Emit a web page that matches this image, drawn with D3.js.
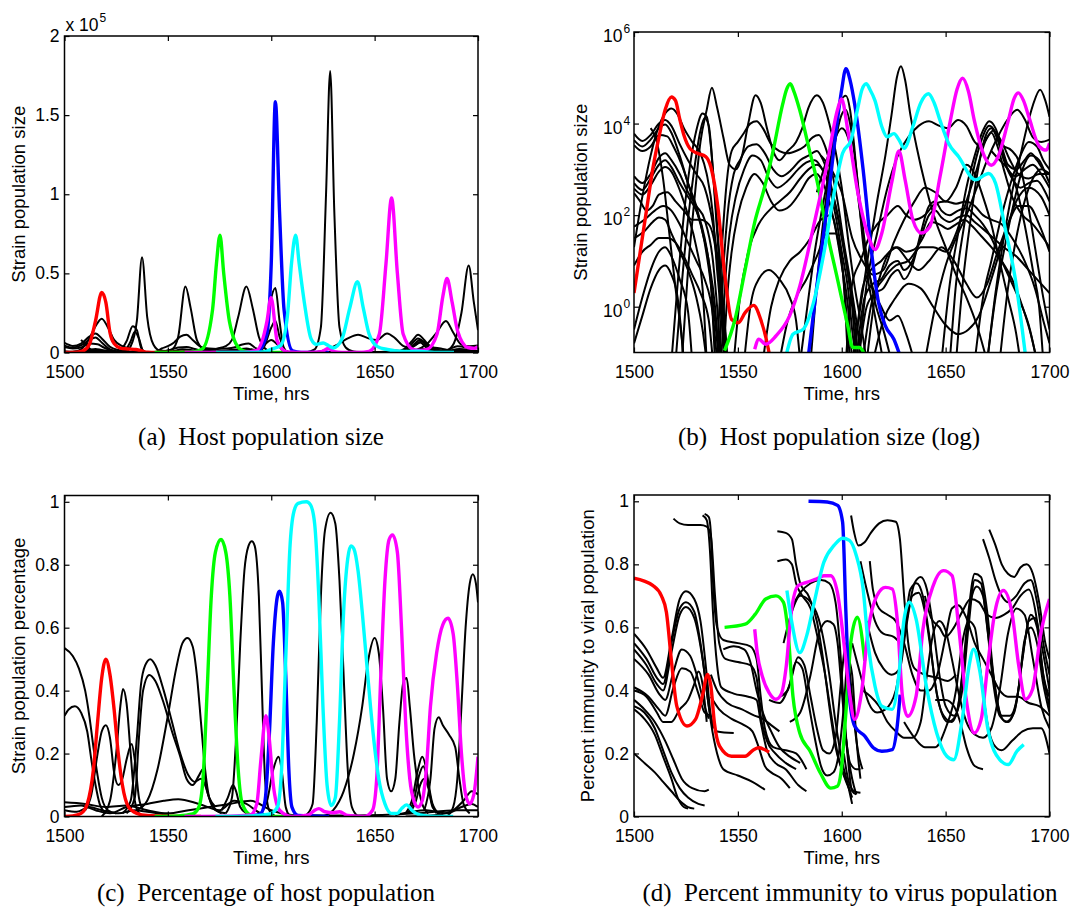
<!DOCTYPE html>
<html>
<head>
<meta charset="utf-8">
<script src="https://cdn.jsdelivr.net/npm/d3@7"></script>
<style>
body { margin: 0; background: #fff; }
svg text { font-family: "Liberation Sans", Arial, Helvetica, sans-serif; }
svg text.cap { font-family: "Liberation Serif", "Times New Roman", serif; }
</style>
</head>
<body>
<script>
// ------------------------------------------------------------------ //
// DATA
// ------------------------------------------------------------------ //

var timeTicks = [1500, 1550, 1600, 1650, 1700]
var sizeTicks = [0, 50000, 100000, 150000, 200000]
var logTicks = [1, 100, 10000, 1000000]
var logExps = ["0", "2", "4", "6"]
var fracTicks = [0, 0.2, 0.4, 0.6, 0.8, 1]

var captions = ["(a)\u2002Host population size", "(b)\u2002Host population size (log)",
    "(c)\u2002Percentage of host population", "(d)\u2002Percent immunity to virus population"]

// host population, log10(strain size) vs time (hrs) -- panels (a) and (b)
var hostRed = [[1500, 0.3], [1503, 1.2], [1506, 2.1], [1509, 3.0], [1512, 3.7], [1515, 4.3], [1518, 4.58], [1520, 4.5], [1522, 4.1], [1524, 3.75], [1527, 3.45], [1530.5, 3.35], [1534.5, 3.28], [1537, 3.05], [1540.3, 2.2], [1543.6, 0.74], [1547, -0.28], [1550.2, -0.35], [1553.5, -0.13], [1557.6, 0.03], [1561, -0.28], [1565, -1.0], [1566, -1.3]]
var hostGreen = [[1543.6, -0.96], [1548.6, -0.28], [1553.5, 0.81], [1558.4, 1.9], [1562.5, 2.55], [1566.7, 3.35], [1571.6, 4.43], [1573.5, 4.75], [1575.2, 4.87], [1577, 4.7], [1579.8, 4.29], [1584.8, 3.35], [1588, 2.77], [1593, 1.61], [1598, 0.59], [1602.9, -0.42], [1605.3, -0.89], [1608.6, -0.89], [1611, -1.05]]
var hostBlue = [[1584, -1.05], [1588, 0.45], [1593, 2.19], [1597.9, 4.07], [1600, 4.75], [1602, 5.2], [1604, 4.95], [1606.2, 4.43], [1610.3, 2.99], [1614.4, 1.17], [1617.7, 0.09], [1621, -0.42], [1625.1, -0.71], [1627.9, -1.05]]
var hostMagenta = [[1558.1, -0.93], [1560.1, -0.71], [1563.4, -0.82], [1568.3, -0.64], [1574.9, -0.2], [1579.8, 0.45], [1586.4, 1.75], [1593, 3.13], [1597.9, 4.29], [1599.9, 4.54], [1602.9, 3.86], [1607.8, 2.48], [1612.8, 1.54], [1616, 1.25], [1619.3, 1.61], [1624.3, 2.77], [1627.5, 3.4], [1630.5, 2.77], [1634.2, 1.9], [1638.3, 1.61], [1642.4, 1.75], [1647.3, 2.84], [1652.3, 4.07], [1655.5, 4.75], [1658.2, 4.99], [1661, 4.7], [1663.8, 4.07], [1668.7, 3.28], [1672, 3.09], [1675.3, 3.28], [1680.2, 4.07], [1683, 4.55], [1685, 4.67], [1687.5, 4.5], [1690.1, 4.14], [1695.1, 3.5], [1698.4, 3.42], [1700, 3.57]]
var hostCyan = [[1573.3, -1.05], [1576.5, -0.6], [1581.5, -0.49], [1586.4, 0.09], [1591.4, 1.17], [1596.3, 2.48], [1600.4, 3.35], [1604.5, 3.64], [1607.8, 4.36], [1609.8, 4.75], [1611.8, 4.87], [1613.5, 4.75], [1616, 4.5], [1619.3, 3.93], [1621.8, 3.71], [1625.1, 3.78], [1627.6, 3.64], [1630, 3.46], [1634.2, 3.93], [1638, 4.45], [1641.7, 4.65], [1644.5, 4.45], [1647.3, 4.07], [1651.4, 3.57], [1656.2, 3.28], [1664.3, 2.77], [1670.7, 2.91], [1674, 2.7], [1678.8, 1.68], [1683.6, 0.59], [1688.4, -1.05]]
var hostBlack = [
    [[1500, 1.3], [1504, 2.4], [1508, 3.3], [1512, 3.95], [1515, 4.22], [1518, 4.33], [1521, 4.2], [1524, 3.9], [1528, 3.6], [1532, 3.35], [1535, 2.9], [1538, 2.0], [1540, 0.8], [1542, -0.2], [1544, -1.2]],
    [[1500, 3.78], [1504, 3.62], [1508, 3.75], [1512, 4.0], [1515, 4.08], [1518, 3.95], [1522, 3.55], [1526, 3.2], [1530, 2.9], [1534, 2.6], [1538, 1.8], [1541, 0.8], [1543, 0], [1545, -1.2]],
    [[1500, 3.64], [1504, 3.5], [1508, 3.65], [1512, 3.9], [1515, 3.98], [1518, 3.8], [1522, 3.3], [1526, 2.7], [1530, 2.2], [1534, 1.4], [1537, 0.5], [1539, -0.3], [1541, -1.2]],
    [[1500, 3.53], [1504, 3.4], [1508, 3.5], [1512, 3.75], [1516, 3.72], [1519, 3.5], [1523, 3.1], [1528, 2.4], [1532, 1.8], [1536, 1.0], [1539, 0], [1541, -1.2]],
    [[1500, 2.85], [1504, 2.7], [1508, 2.9], [1512, 3.25], [1515, 3.35], [1518, 3.2], [1522, 2.9], [1526, 2.5], [1530, 2.2], [1534, 1.9], [1538, 1.0], [1540, 0], [1542, -1.2]],
    [[1500, 2.7], [1504, 2.55], [1508, 2.8], [1512, 3.1], [1515, 3.2], [1518, 3.05], [1522, 2.7], [1526, 2.4], [1530, 2.1], [1534, 1.5], [1537, 0.5], [1539, -1.2]],
    [[1500, 2.58], [1504, 2.45], [1508, 2.65], [1512, 2.95], [1515, 3.05], [1518, 2.95], [1522, 2.55], [1526, 2.0], [1530, 1.3], [1533, 0.4], [1535, -1.2]],
    [[1500, 2.48], [1503, 2.3], [1506, 2.1], [1509, 2.2], [1512, 2.45], [1516, 2.5], [1520, 2.3], [1524, 2.1], [1528, 1.9], [1532, 1.9], [1536, 1.8], [1540, 1.0], [1542, 0], [1544, -1.2]],
    [[1500, 1.75], [1505, 1.9], [1510, 2.1], [1514, 2.2], [1518, 2.1], [1522, 1.8], [1526, 1.4], [1530, 1.0], [1534, 0.6], [1538, -0.2], [1540, -1.2]],
    [[1500, 1.5], [1505, 1.65], [1509, 1.85], [1512, 1.95], [1515, 1.9], [1518, 1.6], [1522, 1.2], [1526, 0.8], [1530, 0.2], [1533, -0.5], [1535, -1.2]],
    [[1500, 0.9], [1504, 1.2], [1508, 1.35], [1512, 1.5], [1516, 1.5], [1520, 1.4], [1524, 1.1], [1528, 0.7], [1532, 0.3], [1536, -0.3], [1538, -1.2]],
    [[1500, -0.5], [1504, 0.2], [1508, 0.8], [1512, 1.2], [1515, 1.3], [1518, 1.1], [1522, 0.6], [1526, -0.1], [1528, -1.2]],
    [[1500, -0.8], [1504, -0.2], [1508, 0.4], [1512, 0.8], [1515, 0.9], [1518, 0.7], [1521, 0.2], [1524, -1.2]],
    [[1518, -1.2], [1521, 0.5], [1524, 2.0], [1527, 3.1], [1530, 3.85], [1533, 4.22], [1535, 4.15], [1537, 3.5], [1539, 2.3], [1541, 1.0], [1543, 0], [1545, -1.2]],
    [[1520, -1.2], [1523, 0.5], [1526, 1.9], [1529, 3.0], [1532, 3.85], [1534, 4.12], [1536, 3.95], [1538, 3.0], [1540, 1.8], [1542, 0.5], [1544, -1.2]],
    [[1508, 3.9], [1511, 3.6], [1514, 2.8], [1517, 1.6], [1520, 0.4], [1523, -0.7], [1524, -1.2]],
    [[1523, -1.2], [1526, 0.8], [1529, 2.3], [1532, 3.6], [1535, 4.3], [1537.5, 4.78], [1540, 4.35], [1543, 3.7], [1546, 3.1], [1549, 3.0], [1552, 3.3], [1555, 4.0], [1558.5, 4.62], [1561, 4.45], [1564, 3.9], [1567, 3.4], [1570, 3.2], [1574, 3.4], [1578, 3.6], [1581, 3.9], [1584, 4.35], [1588, 4.62], [1591, 4.45], [1594, 4.0], [1597, 3.4], [1600, 2.6], [1603, 1.5], [1606, 0.5], [1609, -0.3], [1612, -1.2]],
    [[1540, -1.2], [1542, 1.0], [1544, 2.4], [1547, 3.4], [1550, 3.6], [1553, 3.8], [1556, 4.0], [1559, 4.05], [1562, 3.9], [1566, 3.55], [1570, 3.4], [1574, 3.35], [1578, 3.4], [1582, 3.5], [1586, 3.7], [1589, 3.75], [1592, 3.5], [1595, 3.0], [1598, 2.3], [1601, 1.4], [1604, 0.6], [1607, -0.3], [1610, -1.2]],
    [[1541, -1.2], [1543, 0.8], [1545, 2.0], [1548, 2.9], [1551, 3.2], [1555, 3.5], [1559, 3.55], [1563, 3.35], [1567, 3.0], [1571, 2.85], [1576, 3.0], [1580, 3.2], [1584, 3.3], [1588, 3.4], [1591, 3.2], [1594, 2.8], [1597, 2.2], [1600, 1.5], [1603, 0.7], [1606, -0.2], [1608, -1.2]],
    [[1542, -1.2], [1544, 0.6], [1546, 1.6], [1549, 2.4], [1553, 3.0], [1557, 3.3], [1561, 3.2], [1565, 2.8], [1569, 2.6], [1574, 2.75], [1579, 3.0], [1583, 3.15], [1587, 3.2], [1590, 3.05], [1594, 2.6], [1597, 2.0], [1600, 1.2], [1603, 0.4], [1605, -0.5], [1607, -1.2]],
    [[1543, -1.2], [1545, 0.3], [1547, 1.2], [1550, 2.0], [1554, 2.6], [1558, 2.9], [1562, 2.7], [1566, 2.3], [1570, 2.1], [1575, 2.2], [1580, 2.5], [1584, 2.8], [1588, 2.9], [1591, 2.7], [1594, 2.3], [1597, 1.7], [1600, 0.9], [1603, 0], [1605, -1.2]],
    [[1548, -1.2], [1551, 0.2], [1555, 1.2], [1560, 1.8], [1565, 2.1], [1570, 2.3], [1575, 2.5], [1580, 2.8], [1584, 3.0], [1588, 3.1], [1592, 2.9], [1596, 2.4], [1599, 1.8], [1602, 1.0], [1605, 0], [1607, -1.2]],
    [[1553, -1.2], [1556, 0.0], [1560, 0.6], [1565, 0.8], [1570, 0.6], [1575, 0.2], [1578, -0.3], [1580, -1.2]],
    [[1562, -1.2], [1566, 0.0], [1570, 0.6], [1575, 1.0], [1580, 1.2], [1585, 1.5], [1590, 1.9], [1595, 2.0], [1598, 1.5], [1601, 0.5], [1603, -1.2]],
    [[1570, -1.2], [1574, -0.3], [1578, 0.2], [1583, 0.6], [1588, 1.1], [1593, 1.6], [1597, 1.6], [1600, 1.0], [1602, 0], [1604, -1.2]],
    [[1580, -1.2], [1584, 0.2], [1587, 1.2], [1590, 2.0], [1594, 3.0], [1597, 4.0], [1599.5, 4.5], [1602, 4.61], [1604, 4.3], [1606, 3.5], [1608, 2.5], [1610, 1.5], [1613, 0.5], [1616, -0.2], [1620, -1.2]],
    [[1585, -1.2], [1588, 0.5], [1592, 2.2], [1596, 3.4], [1600, 4.2], [1602, 4.3], [1604, 4.0], [1607, 3.0], [1610, 1.8], [1613, 0.8], [1616, 0.1], [1620, -0.5], [1624, -1.2]],
    [[1588, 2.5], [1592, 3.1], [1596, 3.6], [1600, 3.9], [1603, 3.7], [1606, 3.0], [1609, 2.0], [1612, 1.0], [1615, 0.4], [1619, 0.0], [1623, -0.3], [1627, -0.2], [1631, -0.6], [1635, -1.2]],
    [[1605, -1.2], [1609, 0], [1613, 1.2], [1617, 2.3], [1621, 3.3], [1624, 4.2], [1626.5, 5.0], [1628.5, 5.25], [1630.5, 4.95], [1633, 4.2], [1636, 3.5], [1640, 2.7], [1645, 1.9], [1650, 1.3], [1655, 0.7], [1660, 0.2], [1665, -0.4], [1670, -1.2]],
    [[1608, -1.2], [1612, 0.5], [1617, 1.6], [1622, 2.6], [1627, 3.3], [1632, 3.7], [1637, 3.95], [1642, 4.05], [1647, 3.95], [1651, 3.9], [1656, 4.08], [1660, 3.95], [1664, 3.6], [1667, 3.5], [1670, 3.7], [1673, 3.85], [1677, 3.6], [1681, 3.2], [1685, 2.9], [1690, 2.8], [1695, 2.9], [1700, 2.9]],
    [[1648, -1.2], [1652, 0.5], [1656, 1.6], [1660, 2.6], [1664, 3.3], [1668, 3.85], [1671, 4.05], [1674, 3.9], [1677, 3.5], [1680, 3.1], [1684, 3.0], [1688, 3.2], [1691, 3.35], [1694, 3.2], [1697, 3.0], [1700, 2.9]],
    [[1652, -1.2], [1655, 0.5], [1659, 1.8], [1663, 2.9], [1667, 3.6], [1671, 3.95], [1674, 3.8], [1677, 3.4], [1680, 3.0], [1684, 2.85], [1688, 3.0], [1692, 3.1], [1696, 2.9], [1700, 2.6]],
    [[1655, -1.2], [1658, 0.4], [1662, 1.9], [1666, 3.1], [1669, 3.7], [1672, 3.9], [1675, 3.65], [1678, 3.2], [1682, 2.8], [1686, 2.6], [1690, 2.7], [1694, 2.75], [1698, 2.5], [1700, 2.3]],
    [[1610, -1.2], [1615, 0.2], [1620, 0.6], [1626, 0.9], [1632, 1.0], [1638, 1.3], [1644, 1.3], [1650, 1.2], [1655, 1.6], [1660, 2.3], [1665, 3.0], [1669, 3.6], [1672, 3.8], [1675, 3.5], [1678, 3.0], [1682, 2.4], [1687, 2.0], [1692, 1.8], [1697, 1.5], [1700, 1.3]],
    [[1608, -1.2], [1612, 0.0], [1616, 0.3], [1620, 0.4], [1624, 0.7], [1627, 0.8], [1630, 0.6], [1634, 0.9], [1638, 1.6], [1642, 2.2], [1645, 2.3], [1648, 2.1], [1652, 2.0], [1656, 2.1], [1660, 2.15], [1664, 2.0], [1668, 1.8], [1672, 1.5], [1676, 1.1], [1680, 0.7], [1685, 0.2], [1690, -0.4], [1694, -1.2]],
    [[1607, -1.2], [1611, 0.2], [1615, 0.5], [1619, 0.6], [1623, 0.9], [1627, 1.0], [1630, 0.8], [1634, 1.0], [1638, 1.5], [1642, 2.0], [1645, 2.1], [1648, 1.95], [1652, 1.85], [1656, 1.95], [1660, 2.0], [1664, 1.85], [1668, 1.7], [1673, 1.5], [1678, 1.3], [1684, 1.1], [1690, 0.8], [1696, 0.5], [1700, 0.3]],
    [[1606, -1.2], [1610, 0.4], [1614, 0.8], [1619, 1.0], [1623, 1.2], [1627, 1.3], [1631, 1.2], [1635, 1.25], [1639, 1.5], [1643, 1.85], [1647, 1.8], [1651, 1.7], [1655, 1.8], [1659, 1.9], [1663, 1.75], [1667, 1.55], [1672, 1.3], [1677, 1.0], [1682, 0.6], [1687, 0.0], [1691, -0.6], [1694, -1.2]],
    [[1602, -1.2], [1605, 0.5], [1609, 1.0], [1613, 1.5], [1617, 1.8], [1622, 2.0], [1627, 2.2], [1631, 2.0], [1635, 1.9], [1640, 2.0], [1645, 2.25], [1650, 2.3], [1655, 2.25], [1660, 2.3], [1664, 2.2], [1668, 2.0], [1672, 1.9], [1677, 1.8], [1682, 1.5], [1688, 1.0], [1693, 0.4], [1697, -0.3], [1700, -0.8]],
    [[1612, -1.2], [1616, 0.2], [1620, 0.9], [1626, 1.3], [1632, 1.0], [1637, 0.8], [1642, 1.0], [1648, 1.3], [1654, 1.0], [1660, 0.5], [1665, 0.2], [1670, 0.5], [1675, 1.2], [1680, 1.8], [1685, 2.2], [1690, 2.2], [1695, 1.8], [1700, 1.2]],
    [[1615, -1.2], [1620, -0.3], [1626, 0.2], [1632, 0.5], [1638, 0.4], [1644, 0.0], [1650, -0.4], [1656, -0.6], [1661, -0.5], [1666, -0.2], [1672, 0.6], [1678, 1.5], [1684, 2.3], [1690, 2.6], [1696, 2.4], [1700, 2.0]],
    [[1590, 3.3], [1595, 3.0], [1600, 2.5], [1605, 1.5], [1610, 1.0], [1615, 0.7], [1620, 0.8], [1625, 1.4], [1630, 1.9], [1635, 2.3], [1640, 2.6], [1645, 2.5], [1650, 2.3], [1655, 2.6], [1660, 3.1], [1664, 2.9], [1668, 2.4], [1672, 1.8], [1676, 1.0], [1680, 0.2], [1684, -0.6], [1686, -1.2]],
    [[1664, -1.2], [1668, 0.2], [1672, 1.0], [1677, 2.0], [1682, 2.8], [1686, 3.3], [1690, 3.6], [1694, 3.5], [1697, 3.2], [1700, 3.0]],
    [[1670, -1.2], [1674, 0.2], [1678, 1.2], [1683, 2.3], [1687, 3.0], [1691, 3.3], [1695, 3.2], [1699, 2.8], [1700, 2.7]],
    [[1676, -1.2], [1680, 0.4], [1684, 1.5], [1688, 2.3], [1692, 2.8], [1696, 3.0], [1700, 2.9]],
    [[1640, -1.2], [1645, 0.0], [1650, 0.9], [1655, 1.5], [1660, 2.0], [1665, 2.6], [1670, 3.2], [1675, 3.7], [1680, 4.1], [1684.5, 4.3], [1688, 4.1], [1692, 3.7], [1696, 3.6], [1700, 3.65]],
    [[1670, -1.2], [1674, 0.3], [1678, 1.5], [1682, 2.5], [1686, 3.3], [1689, 3.9], [1692, 4.4], [1695.5, 4.74], [1698, 4.5], [1700, 4.15]],
    [[1672, 3.4], [1676, 3.2], [1680, 3.0], [1684, 2.6], [1688, 1.8], [1692, 0.8], [1695, 0], [1697, -1.2]],
    [[1678, 3.5], [1682, 3.4], [1685, 3.2], [1689, 2.4], [1693, 1.3], [1697, 0.2], [1700, -0.5]]
]

// share of host population -- panel (c)
var pctRed = [[1500, 0], [1504, 0.002], [1508, 0.01], [1511, 0.04], [1514, 0.15], [1516, 0.3], [1518, 0.44], [1520, 0.5], [1522, 0.45], [1524, 0.34], [1526, 0.2], [1528, 0.1], [1531, 0.03], [1535, 0.01], [1540, 0.003], [1550, 0.001], [1566, 0]]
var pctGreen = [[1543.6, 0], [1555, 0.002], [1562, 0.008], [1565, 0.03], [1567, 0.12], [1569, 0.4], [1571, 0.7], [1573, 0.84], [1575.7, 0.88], [1578, 0.84], [1580, 0.7], [1582, 0.4], [1584, 0.15], [1586, 0.04], [1590, 0.005], [1600, 0], [1611, 0]]
var pctBlue = [[1584, 0], [1592, 0.003], [1595, 0.01], [1597, 0.05], [1599, 0.25], [1601, 0.55], [1603, 0.7], [1604, 0.716], [1605.5, 0.68], [1607, 0.45], [1608.5, 0.15], [1610, 0.03], [1613, 0.003], [1628, 0]]
var pctMagenta = [[1558, 0], [1580, 0.001], [1590, 0.005], [1593, 0.04], [1595, 0.18], [1597.4, 0.32], [1599, 0.25], [1601, 0.1], [1604, 0.02], [1610, 0], [1618, 0.005], [1621, 0.02], [1623, 0.025], [1626, 0.015], [1630, 0.012], [1633, 0.015], [1637, 0.003], [1645, 0], [1649, 0.02], [1651, 0.12], [1653, 0.45], [1655, 0.75], [1657, 0.88], [1658.7, 0.895], [1661, 0.84], [1663, 0.6], [1665, 0.3], [1667, 0.12], [1669, 0.05], [1671, 0.03], [1673, 0.05], [1675, 0.15], [1677, 0.35], [1680, 0.52], [1683, 0.61], [1685.5, 0.63], [1688, 0.58], [1690, 0.42], [1692, 0.2], [1694, 0.07], [1696, 0.04], [1698, 0.07], [1700, 0.19]]
var pctCyan = [[1573, 0], [1588, 0.001], [1596, 0.005], [1600, 0.01], [1603, 0.03], [1605, 0.15], [1607, 0.5], [1609, 0.85], [1611, 0.97], [1613, 0.995], [1617, 1.0], [1619, 0.99], [1621, 0.93], [1623, 0.7], [1625, 0.35], [1627, 0.1], [1629, 0.035], [1631, 0.06], [1633, 0.3], [1635, 0.65], [1637, 0.82], [1638.5, 0.86], [1640, 0.85], [1642, 0.78], [1644, 0.65], [1646, 0.5], [1648, 0.35], [1650, 0.22], [1652, 0.12], [1655, 0.04], [1658, 0.01], [1661, 0.01], [1663, 0.025], [1665.5, 0.037], [1668, 0.02], [1672, 0.005], [1680, 0], [1688, 0]]
var pctBlack = [
    [[1500, 0.535], [1504, 0.51], [1507, 0.47], [1510, 0.4], [1512, 0.32], [1514, 0.22], [1516, 0.13], [1518, 0.06], [1521, 0.02], [1525, 0.01]],
    [[1500, 0.32], [1502, 0.34], [1505, 0.35], [1508, 0.33], [1511, 0.27], [1513, 0.18], [1515, 0.1], [1517, 0.04], [1520, 0.01]],
    [[1510, 0.02], [1513, 0.07], [1516, 0.2], [1518, 0.27], [1520, 0.29], [1522, 0.25], [1524, 0.14], [1526, 0.1], [1528, 0.12], [1530, 0.18], [1532.5, 0.23], [1534, 0.18], [1536, 0.06], [1538, 0.02]],
    [[1518, 0], [1522, 0.05], [1525, 0.2], [1527, 0.35], [1528.3, 0.405], [1530, 0.36], [1532, 0.2], [1534, 0.05], [1536, 0.01]],
    [[1528, 0.01], [1532, 0.05], [1535, 0.25], [1537, 0.42], [1539, 0.48], [1541.5, 0.5], [1544, 0.48], [1548, 0.4], [1552, 0.3], [1556, 0.2], [1560, 0.13], [1563, 0.11], [1566, 0.12], [1568, 0.1], [1570, 0.06], [1573, 0.03]],
    [[1530, 0.01], [1534, 0.06], [1536, 0.25], [1538, 0.4], [1541, 0.45], [1544, 0.43], [1548, 0.36], [1552, 0.27], [1556, 0.19], [1559, 0.12], [1562, 0.1], [1565, 0.13], [1567, 0.15], [1569, 0.08], [1572, 0.03], [1576, 0.01]],
    [[1535, 0.02], [1540, 0.05], [1545, 0.15], [1550, 0.32], [1554, 0.47], [1557, 0.55], [1559.5, 0.567], [1562, 0.54], [1564, 0.45], [1566, 0.3], [1568, 0.15], [1570, 0.06], [1573, 0.02], [1578, 0.01]],
    [[1578, 0.01], [1581, 0.06], [1583, 0.25], [1585, 0.55], [1587, 0.78], [1589, 0.86], [1590.6, 0.875], [1592, 0.86], [1594, 0.7], [1595.5, 0.4], [1597, 0.12], [1599, 0.02], [1602, 0]],
    [[1617, 0.005], [1620, 0.04], [1622, 0.3], [1624, 0.7], [1626, 0.91], [1628.7, 0.965], [1631, 0.93], [1633, 0.75], [1635, 0.45], [1637, 0.15], [1639, 0.03], [1642, 0]],
    [[1625, 0], [1630, 0.02], [1635, 0.08], [1640, 0.2], [1644, 0.35], [1647, 0.5], [1650, 0.567], [1652, 0.52], [1654, 0.35], [1656, 0.12], [1658, 0.08], [1660, 0.12], [1662, 0.3], [1664, 0.43], [1665.5, 0.44], [1667, 0.35], [1669, 0.2], [1671, 0.1], [1673, 0.04], [1676, 0.01]],
    [[1674, 0.02], [1677, 0.12], [1679, 0.28], [1681, 0.315], [1683, 0.29], [1686, 0.26], [1689, 0.22], [1691, 0.12], [1693, 0.04], [1696, 0.01]],
    [[1685, 0], [1688, 0.03], [1690, 0.12], [1692, 0.35], [1694, 0.6], [1696, 0.74], [1697.5, 0.77], [1699, 0.74], [1700, 0.68]],
    [[1665, 0.01], [1668, 0.05], [1671, 0.15], [1673, 0.19], [1675, 0.15], [1677, 0.06], [1680, 0.01]],
    [[1666, 0.01], [1669, 0.05], [1671.5, 0.13], [1673.5, 0.16], [1675.5, 0.12], [1678, 0.04], [1681, 0.01]],
    [[1667, 0.01], [1670, 0.05], [1672, 0.1], [1674, 0.12], [1676, 0.09], [1678, 0.03], [1682, 0.005]],
    [[1595, 0.01], [1598, 0.05], [1601, 0.15], [1603.5, 0.19], [1605, 0.15], [1607, 0.03], [1609, 0]],
    [[1576, 0.02], [1579, 0.06], [1581.5, 0.1], [1583, 0.08], [1585, 0.03], [1588, 0.01]],
    [[1500, 0.045], [1510, 0.04], [1520, 0.03], [1530, 0.035], [1540, 0.02], [1550, 0.01], [1560, 0.02], [1570, 0.03], [1580, 0.04], [1590, 0.05], [1600, 0.02], [1610, 0.005], [1640, 0.003], [1670, 0.01], [1690, 0.02], [1700, 0.02]],
    [[1500, 0.03], [1508, 0.035], [1515, 0.02], [1522, 0.01], [1530, 0.03], [1540, 0.04], [1548, 0.05], [1555, 0.055], [1565, 0.04], [1575, 0.02], [1582, 0.05], [1588, 0.04], [1595, 0.01], [1605, 0]],
    [[1500, 0.02], [1506, 0.015], [1512, 0.03], [1518, 0.02], [1526, 0.01], [1534, 0.02], [1540, 0.015], [1550, 0.005]],
    [[1665, 0], [1680, 0.005], [1688, 0.02], [1693, 0.05], [1697, 0.08], [1700, 0.07]],
    [[1660, 0.005], [1675, 0.02], [1685, 0.01], [1692, 0.03], [1697, 0.04], [1700, 0.03]]
]

// immunity to the viral population -- panel (d)
var immRed = [[1500, 0.756], [1509, 0.733], [1513.2, 0.7], [1515.6, 0.648], [1518.1, 0.488], [1520.6, 0.35], [1525.5, 0.287], [1529.6, 0.308], [1532.9, 0.382], [1535.4, 0.451], [1537, 0.414], [1538.7, 0.297], [1541.2, 0.223], [1546.9, 0.191], [1553.5, 0.191], [1557.6, 0.212], [1560.1, 0.218], [1565, 0.204]]
var immGreen = [[1543.6, 0.6], [1553.5, 0.61], [1558.4, 0.642], [1563.4, 0.69], [1568.3, 0.7], [1571.9, 0.68], [1574, 0.594], [1576.5, 0.382], [1579.8, 0.265], [1584.8, 0.207], [1589.7, 0.138], [1594.7, 0.09], [1597.9, 0.096], [1599.6, 0.138], [1602, 0.33], [1604.5, 0.56], [1607.5, 0.632], [1611.1, 0.494]]
var immBlue = [[1584, 1.0], [1593, 0.998], [1598, 0.987], [1600.4, 0.934], [1602, 0.648], [1603.7, 0.382], [1606.2, 0.287], [1611.1, 0.255], [1615.2, 0.218], [1619.3, 0.207], [1624.3, 0.212], [1626.7, 0.287], [1628.1, 0.387]]
var immMagenta = [[1558.1, 0.594], [1559.3, 0.52], [1561.7, 0.446], [1565, 0.393], [1568.3, 0.372], [1570.8, 0.387], [1573.3, 0.478], [1575.7, 0.648], [1579, 0.732], [1583.1, 0.743], [1588, 0.754], [1591.4, 0.764], [1594.7, 0.764], [1597.9, 0.711], [1601.2, 0.541], [1603.7, 0.393], [1606.2, 0.308], [1609.5, 0.393], [1612.8, 0.594], [1616.9, 0.7], [1621, 0.727], [1624.3, 0.722], [1626.7, 0.626], [1629.2, 0.382], [1631.7, 0.318], [1635.8, 0.382], [1639.1, 0.594], [1644, 0.732], [1649, 0.78], [1653.1, 0.764], [1656.4, 0.594], [1659.7, 0.382], [1663.8, 0.265], [1667.1, 0.308], [1670.4, 0.488], [1673.7, 0.648], [1677.8, 0.717], [1681.9, 0.648], [1685.2, 0.478], [1688.5, 0.372], [1691.8, 0.403], [1695.9, 0.584], [1700, 0.69]]
var immCyan = [[1573.6, 0.717], [1575.7, 0.626], [1579.8, 0.52], [1583.1, 0.573], [1586.4, 0.669], [1591.4, 0.807], [1596.3, 0.86], [1600.4, 0.883], [1603.7, 0.876], [1607, 0.828], [1610.3, 0.722], [1612.8, 0.541], [1616, 0.414], [1619.3, 0.35], [1624.3, 0.34], [1627.6, 0.456], [1630, 0.626], [1632.5, 0.68], [1635.8, 0.626], [1640.7, 0.414], [1645.7, 0.265], [1650.6, 0.191], [1653.9, 0.18], [1658, 0.308], [1661.3, 0.478], [1663.5, 0.531], [1666.3, 0.467], [1670.4, 0.276], [1676.1, 0.18], [1680.2, 0.165], [1684.3, 0.207], [1687.6, 0.228]]
var immBlack = [
    [[1500, 0.58], [1506, 0.53], [1511, 0.47], [1514, 0.44], [1518, 0.56], [1522, 0.69], [1525, 0.715], [1529, 0.69], [1532, 0.62], [1535, 0.45], [1537, 0.32], [1540, 0.27], [1548, 0.265]],
    [[1500, 0.55], [1506, 0.5], [1511, 0.44], [1514, 0.42], [1518, 0.55], [1522, 0.66], [1525, 0.68], [1529, 0.65], [1532, 0.55], [1535, 0.4], [1537, 0.3], [1540, 0.2], [1543, 0.15], [1550, 0.13], [1557, 0.11], [1563, 0.085]],
    [[1500, 0.53], [1506, 0.48], [1511, 0.42], [1514, 0.4], [1518, 0.52], [1522, 0.64], [1525, 0.665], [1529, 0.63], [1533, 0.5], [1536, 0.35], [1538, 0.28]],
    [[1500, 0.5], [1507, 0.45], [1512, 0.39], [1515, 0.37], [1519, 0.46], [1523, 0.53], [1527, 0.51], [1531, 0.43], [1534, 0.35], [1536, 0.31]],
    [[1500, 0.41], [1507, 0.38], [1512, 0.34], [1515, 0.32], [1519, 0.41], [1523, 0.47], [1527, 0.46], [1531, 0.39], [1534, 0.33], [1537, 0.32]],
    [[1500, 0.4], [1506, 0.38], [1511, 0.33], [1514, 0.3], [1518, 0.3], [1522, 0.34], [1526, 0.37], [1529, 0.42], [1531, 0.46], [1533, 0.42], [1535, 0.3]],
    [[1500, 0.37], [1505, 0.34], [1510, 0.3], [1515, 0.24], [1519, 0.18], [1523, 0.12], [1528, 0.09], [1534, 0.08], [1536, 0.085]],
    [[1500, 0.35], [1505, 0.33], [1510, 0.28], [1514, 0.21], [1518, 0.14], [1522, 0.09], [1526, 0.06], [1531, 0.04], [1534, 0.035]],
    [[1500, 0.34], [1505, 0.31], [1510, 0.26], [1514, 0.19], [1518, 0.12], [1521, 0.06], [1524, 0.03], [1526, 0.025]],
    [[1500, 0.2], [1505, 0.17], [1510, 0.14], [1514, 0.11], [1518, 0.08], [1522, 0.05], [1526, 0.03], [1529, 0.025]],
    [[1519, 0.945], [1522, 0.93], [1526, 0.925], [1532, 0.925], [1535, 0.92], [1537, 0.89], [1539, 0.7], [1541, 0.55], [1544, 0.5], [1550, 0.49], [1556, 0.48], [1559, 0.44], [1561, 0.32], [1564, 0.24], [1568, 0.2], [1573, 0.17], [1578, 0.15]],
    [[1534, 0.96], [1536, 0.95], [1537, 0.9], [1538, 0.75], [1540, 0.6], [1543, 0.56], [1550, 0.55], [1556, 0.54], [1559, 0.5], [1561, 0.38], [1563, 0.28], [1567, 0.22], [1573, 0.21], [1578, 0.2], [1583, 0.15]],
    [[1533, 0.955], [1535, 0.94], [1536.5, 0.85], [1538, 0.65], [1540, 0.48], [1542, 0.41], [1548, 0.39], [1555, 0.38], [1559, 0.37], [1561, 0.3], [1564, 0.21], [1568, 0.17], [1573, 0.15], [1579, 0.1], [1583, 0.08]],
    [[1537, 0.45], [1540, 0.4], [1545, 0.36], [1552, 0.34], [1558, 0.32], [1562, 0.31], [1566, 0.29], [1570, 0.27]],
    [[1537, 0.38], [1541, 0.34], [1547, 0.31], [1553, 0.29], [1557, 0.27], [1560, 0.22], [1563, 0.16], [1566, 0.14], [1571, 0.12], [1575, 0.09]],
    [[1543, 0.53], [1548, 0.54], [1553, 0.53], [1556, 0.49], [1559, 0.4], [1562, 0.33], [1566, 0.27], [1570, 0.22], [1575, 0.19], [1580, 0.17]],
    [[1569, 0.905], [1573, 0.9], [1576, 0.88], [1578, 0.8], [1580, 0.74], [1584, 0.7], [1588, 0.62], [1591, 0.5], [1594, 0.35], [1597, 0.22], [1600, 0.15], [1603, 0.1], [1605, 0.06]],
    [[1569, 0.81], [1573, 0.815], [1576, 0.8], [1578, 0.74], [1581, 0.7], [1585, 0.66], [1588, 0.58], [1592, 0.45], [1595, 0.32], [1598, 0.2], [1601, 0.13], [1604, 0.08]],
    [[1565, 0.37], [1570, 0.36], [1575, 0.42], [1579, 0.505], [1582, 0.48], [1585, 0.38], [1588, 0.28], [1591, 0.21], [1594, 0.2], [1597, 0.25], [1600, 0.45], [1602, 0.55], [1604, 0.45], [1606, 0.3], [1608, 0.2], [1610, 0.15]],
    [[1570, 0.38], [1574, 0.4], [1578, 0.49], [1581, 0.47], [1584, 0.36], [1587, 0.25], [1590, 0.16], [1593, 0.13], [1596, 0.14], [1599, 0.22], [1601, 0.35], [1603, 0.5], [1605, 0.45], [1607, 0.25], [1609, 0.12]],
    [[1575, 0.3], [1580, 0.33], [1585, 0.45], [1589, 0.58], [1593, 0.62], [1596, 0.61], [1598, 0.55], [1600, 0.4], [1602, 0.25], [1605, 0.12], [1607, 0.07]],
    [[1572, 0.55], [1576, 0.65], [1580, 0.7], [1585, 0.68], [1590, 0.6], [1594, 0.45], [1597, 0.3], [1600, 0.18], [1603, 0.1], [1605, 0.04]],
    [[1575, 0.65], [1580, 0.71], [1585, 0.74], [1590, 0.75], [1594, 0.74], [1597, 0.68], [1599, 0.55], [1601, 0.35], [1603, 0.18], [1605, 0.08], [1607, 0.07]],
    [[1604.5, 0.955], [1606, 0.9], [1608, 0.86], [1611, 0.87], [1614, 0.9], [1618, 0.93], [1622, 0.94], [1626, 0.935], [1628, 0.88], [1630, 0.7], [1632, 0.55], [1635, 0.47], [1640, 0.45], [1646, 0.44], [1651, 0.43], [1655, 0.45]],
    [[1609, 0.81], [1612, 0.72], [1616, 0.62], [1620, 0.58], [1625, 0.57], [1629, 0.55], [1632, 0.65], [1635, 0.74], [1638, 0.76], [1641, 0.72], [1644, 0.6], [1647, 0.45], [1650, 0.35], [1654, 0.32], [1658, 0.4], [1661, 0.6], [1664, 0.75], [1667, 0.74], [1670, 0.6], [1673, 0.42], [1676, 0.32], [1680, 0.3], [1684, 0.36], [1688, 0.55], [1691, 0.64], [1694, 0.6], [1697, 0.45], [1700, 0.35]],
    [[1605, 0.55], [1609, 0.45], [1613, 0.36], [1617, 0.33], [1621, 0.34], [1626, 0.4], [1630, 0.58], [1633, 0.72], [1636, 0.74], [1639, 0.7], [1642, 0.58], [1645, 0.42], [1648, 0.33], [1651, 0.3], [1655, 0.32], [1658, 0.45], [1661, 0.65], [1664, 0.77], [1667, 0.76], [1670, 0.65], [1673, 0.45], [1676, 0.33], [1679, 0.3], [1683, 0.33], [1687, 0.5], [1690, 0.62], [1693, 0.63], [1696, 0.55], [1700, 0.4]],
    [[1612, 0.62], [1616, 0.52], [1620, 0.47], [1624, 0.45], [1628, 0.47], [1631, 0.6], [1634, 0.7], [1637, 0.71], [1640, 0.65], [1643, 0.52], [1646, 0.38], [1649, 0.32], [1653, 0.3], [1656, 0.35], [1659, 0.5], [1662, 0.68], [1665, 0.73], [1668, 0.7], [1671, 0.55], [1674, 0.4], [1677, 0.32], [1681, 0.32], [1685, 0.4], [1688, 0.56], [1691, 0.6], [1694, 0.55], [1697, 0.42], [1700, 0.33]],
    [[1613.5, 0.81], [1615, 0.72], [1618, 0.66], [1622, 0.64], [1626, 0.62], [1630, 0.55], [1634, 0.45], [1638, 0.4], [1642, 0.4], [1646, 0.45], [1650, 0.57], [1653, 0.66], [1656, 0.67], [1660, 0.63], [1664, 0.55], [1668, 0.5], [1672, 0.45], [1676, 0.4], [1680, 0.38], [1685, 0.38], [1690, 0.36], [1695, 0.35], [1700, 0.32]],
    [[1610, 0.4], [1614, 0.38], [1618, 0.35], [1622, 0.3], [1626, 0.27], [1630, 0.25], [1634, 0.25], [1638, 0.3], [1641, 0.45], [1644, 0.58], [1647, 0.62], [1650, 0.59], [1653, 0.5], [1656, 0.4], [1660, 0.3], [1664, 0.26], [1668, 0.25], [1672, 0.28], [1676, 0.4], [1680, 0.58], [1684, 0.66], [1688, 0.64], [1692, 0.5], [1696, 0.35], [1700, 0.28]],
    [[1640, 0.7], [1643, 0.63], [1647, 0.6], [1650, 0.57], [1654, 0.6], [1658, 0.65], [1662, 0.69], [1666, 0.68], [1670, 0.64], [1674, 0.63], [1678, 0.64], [1682, 0.66], [1686, 0.7], [1690, 0.72], [1694, 0.62], [1697, 0.45], [1700, 0.38]],
    [[1671, 0.91], [1674, 0.86], [1677, 0.8], [1680, 0.77], [1683, 0.76], [1686, 0.79], [1689, 0.8], [1692, 0.77], [1695, 0.68], [1698, 0.55], [1700, 0.5]],
    [[1668, 0.88], [1671, 0.82], [1674, 0.75], [1677, 0.7], [1680, 0.68], [1684, 0.7], [1688, 0.74], [1691, 0.75], [1694, 0.68], [1697, 0.55], [1700, 0.45]],
    [[1630, 0.3], [1635, 0.25], [1640, 0.22], [1645, 0.22], [1650, 0.28], [1655, 0.4], [1658, 0.55], [1661, 0.62], [1664, 0.6], [1667, 0.45], [1670, 0.3], [1673, 0.23], [1677, 0.21], [1682, 0.24], [1687, 0.27], [1692, 0.28], [1696, 0.28], [1700, 0.2]],
    [[1645, 0.37], [1650, 0.37], [1654, 0.35], [1657, 0.3], [1660, 0.22], [1664, 0.16], [1668, 0.15]],
    [[1602, 0.25], [1604, 0.17], [1607, 0.15], [1609, 0.15]],
    [[1601, 0.2], [1603, 0.12], [1606, 0.08], [1609, 0.075]]
]

// ------------------------------------------------------------------ //
// SETUP
// ------------------------------------------------------------------ //

var svg = d3.select("body").append("svg")
    .attr("width", 1078)
    .attr("height", 916)

var xA = d3.scaleLinear().domain([1500, 1700]).range([64.5, 478])
var xB = d3.scaleLinear().domain([1500, 1700]).range([634, 1049.5])
var yA = d3.scaleLinear().domain([0, 200000]).range([352.5, 36])
var yB = d3.scaleLog().domain([0.1, 1000000]).range([352.5, 32])
var yC = d3.scaleLinear().domain([0, 1.02]).range([816.5, 495.5])
var yD = d3.scaleLinear().domain([0, 1.02]).range([816.5, 495])

var fromLog = function (v) { return Math.pow(10, v) }
var same = function (v) { return v }

function drawPanel(o) {
    var g = svg.append("g")
    var x0 = o.x.range()[0], x1 = o.x.range()[1]
    var yb = o.y.range()[0], yt = o.y.range()[1]

    svg.append("clipPath").attr("id", "clip" + o.id)
        .append("rect")
        .attr("x", x0).attr("y", yt)
        .attr("width", x1 - x0).attr("height", yb - yt)

    var line = d3.line()
        .x(function (d) { return o.x(d[0]) })
        .y(function (d) { return o.y(o.val(d[1])) })
        .curve(d3.curveMonotoneX)

    var plot = g.append("g").attr("clip-path", "url(#clip" + o.id + ")")

    plot.selectAll("path.blk")
        .data(o.black)
        .join("path")
        .attr("class", "blk")
        .attr("d", line)
        .attr("fill", "none")
        .attr("stroke", "#000")
        .attr("stroke-width", 2)

    plot.selectAll("path.col")
        .data(o.colored)
        .join("path")
        .attr("class", "col")
        .attr("d", function (d) { return line(d.pts) })
        .attr("fill", "none")
        .attr("stroke", function (d) { return d.c })
        .attr("stroke-width", 3.4)

    // axes, ticks pointing inward on all four sides
    g.append("g").attr("transform", "translate(0," + yb + ")")
        .call(d3.axisBottom(o.x).tickValues(timeTicks).tickSize(-5).tickPadding(13).tickFormat(d3.format("d")))
    g.append("g").attr("transform", "translate(0," + yt + ")")
        .call(d3.axisTop(o.x).tickValues(timeTicks).tickSize(-5).tickFormat(""))
    g.append("g").attr("transform", "translate(" + x0 + ",0)")
        .call(d3.axisLeft(o.y).tickValues(o.yTicks).tickSize(-5).tickPadding(5).tickFormat(o.yFmt))
    g.append("g").attr("transform", "translate(" + x1 + ",0)")
        .call(d3.axisRight(o.y).tickValues(o.yTicks).tickSize(-5).tickFormat(""))

    g.selectAll(".domain").remove()
    g.selectAll(".tick line").attr("stroke", "#000").attr("stroke-width", 1.2)
    g.selectAll(".tick text").attr("font-size", 17.5).attr("fill", "#000")

    g.append("rect")
        .attr("x", x0).attr("y", yt)
        .attr("width", x1 - x0).attr("height", yb - yt)
        .attr("fill", "none")
        .attr("stroke", "#000")
        .attr("stroke-width", 1.5)

    g.append("text")
        .attr("x", (x0 + x1) / 2)
        .attr("y", yb + 47.5)
        .attr("text-anchor", "middle")
        .attr("font-size", 18.5)
        .text("Time, hrs")

    g.append("text")
        .attr("transform", "translate(" + o.ylx + "," + (yb + yt) / 2 + ") rotate(-90)")
        .attr("text-anchor", "middle")
        .attr("font-size", 18.5)
        .text(o.ylabel)

    g.append("text")
        .attr("class", "cap")
        .attr("x", o.capx)
        .attr("y", o.capy)
        .attr("text-anchor", "middle")
        .attr("font-size", 25)
        .text(o.caption)

    return g
}

function colourSet(r, gr, b, m, c) {
    return [{ c: "#ff0000", pts: r }, { c: "#00ff00", pts: gr }, { c: "#0000ff", pts: b },
        { c: "#ff00ff", pts: m }, { c: "#00ffff", pts: c }]
}

// ------------------------------------------------------------------ //
// PANELS
// ------------------------------------------------------------------ //

var gA = drawPanel({
    id: "a", x: xA, y: yA, val: fromLog,
    yTicks: sizeTicks, yFmt: function (d) { return d / 100000 },
    black: hostBlack, colored: colourSet(hostRed, hostGreen, hostBlue, hostMagenta, hostCyan),
    ylabel: "Strain population size", ylx: 24.5,
    caption: captions[0], capx: 261, capy: 445
})

// x 10^5 multiplier
gA.append("text").attr("x", 65.5).attr("y", 31).attr("font-size", 17.5).text("x 10")
gA.append("text").attr("x", 99.5).attr("y", 22).attr("font-size", 12).text("5")

var gB = drawPanel({
    id: "b", x: xB, y: yB, val: fromLog,
    yTicks: logTicks, yFmt: function () { return "" },
    black: hostBlack, colored: colourSet(hostRed, hostGreen, hostBlue, hostMagenta, hostCyan),
    ylabel: "Strain population size", ylx: 587,
    caption: captions[1], capx: 829, capy: 445
})

// 10^n labels
logTicks.forEach(function (v, i) {
    var yy = yB(v)
    gB.append("text").attr("x", 622.5).attr("y", yy + 10).attr("text-anchor", "end")
        .attr("font-size", 17.5).text("10")
    gB.append("text").attr("x", 623.5).attr("y", yy + 1)
        .attr("font-size", 12).text(logExps[i])
})

drawPanel({
    id: "c", x: xA, y: yC, val: same,
    yTicks: fracTicks, yFmt: d3.format("~g"),
    black: pctBlack, colored: colourSet(pctRed, pctGreen, pctBlue, pctMagenta, pctCyan),
    ylabel: "Strain population percentage", ylx: 24.5,
    caption: captions[2], capx: 266, capy: 901
})

drawPanel({
    id: "d", x: xB, y: yD, val: same,
    yTicks: fracTicks, yFmt: d3.format("~g"),
    black: immBlack, colored: colourSet(immRed, immGreen, immBlue, immMagenta, immCyan),
    ylabel: "Percent immunity to viral population", ylx: 594,
    caption: captions[3], capx: 850, capy: 901
})
</script>
</body>
</html>
